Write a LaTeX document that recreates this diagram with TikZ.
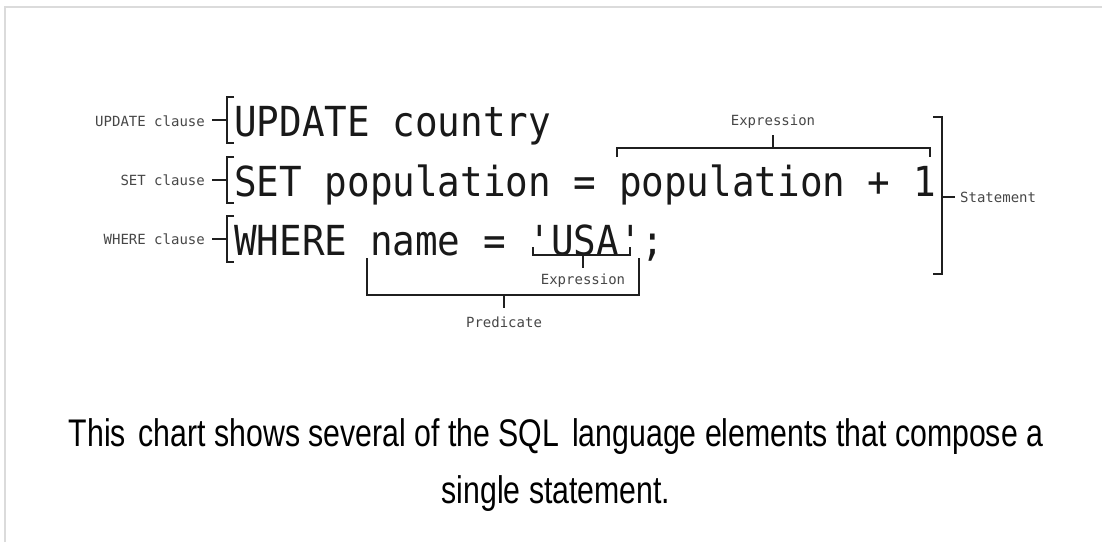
\documentclass[tikz,border=0pt]{standalone}
\usepackage{fontspec}
\setmainfont{Liberation Sans}
\newfontfamily\codefont[Ligatures=TeXOff]{DejaVu Sans Mono}
\begin{document}
\begin{tikzpicture}[x=1pt,y=-1pt,
  code/.style={font=\codefont\fontsize{37.6}{44}\selectfont, yscale=1.1, text=black!90, inner sep=0pt, anchor=base west},
  lab/.style={font=\codefont\fontsize{14}{16}\selectfont, text=black!72, inner sep=0pt},
  brk/.style={line width=2.2pt, draw=black!88, line join=miter},
  captxt/.style={font=\fontsize{38.5}{46}\selectfont, xscale=0.786, inner sep=0pt, anchor=base, text=black}]
\useasboundingbox (0,0) rectangle (1102,542);
\fill[white] (0,0) rectangle (1102,542);
\draw[black!14, line width=2pt] (5,542) -- (5,7) -- (1102,7);

% code lines
\node[code] (l1) at (234,136) {UPDATE country};
\node[code] (l2) at (234,196) {SET population = population + 1};
\node[code] (l3) at (234,255) {WHERE name = 'USA';};

% clause labels
\node[lab, anchor=east] (c1) at (205,121) {UPDATE clause};
\node[lab, anchor=east] (c2) at (205,180) {SET clause};
\node[lab, anchor=east] (c3) at (205,239) {WHERE clause};

\coordinate (t1) at (212,120); \coordinate (m1) at (227,120);
\coordinate (t2) at (212,180); \coordinate (m2) at (227,180);
\coordinate (t3) at (212,239); \coordinate (m3) at (227,239);

\draw[brk] (234,97) -- (227,97) -- (227,143) -- (234,143);
\draw[brk] (t1) -- (m1);
\draw[brk] (234,157) -- (227,157) -- (227,203) -- (234,203);
\draw[brk] (t2) -- (m2);
\draw[brk] (234,216) -- (227,216) -- (227,262) -- (234,262);
\draw[brk] (t3) -- (m3);

% statement bracket
\node[lab, anchor=west] (st) at (960,197) {Statement};
\coordinate (sm) at (942,197);
\draw[brk] (933,117) -- (942,117) -- (942,274) -- (933,274);
\draw[brk] (sm) -- (st.west -| 955,197);

% expression (top)
\node[lab] (e1) at (773,122) {Expression};
\coordinate (e1m) at (773,148);
\draw[brk] (617,157) -- (617,148) -- (930,148) -- (930,157);
\draw[brk] (e1m) -- (773,135);

% expression (USA)
\node[lab] (e2) at (583,281) {Expression};
\coordinate (e2m) at (583,255);
\draw[brk] (533,247) -- (533,255) -- (630,255) -- (630,247);
\draw[brk] (e2m) -- (583,268);

% predicate
\node[lab] (p) at (504,322) {Predicate};
\coordinate (pm) at (504,295);
\draw[brk] (367,258) -- (367,295) -- (639,295) -- (639,258);
\draw[brk] (pm) -- (504,308);

% caption
\node[captxt] (cap1) at (556,446) {This\hspace{0.15em} chart shows several of the SQL\hspace{0.15em} language elements that compose a};
\node[captxt] (cap2) at (556,503) {single statement.};
\end{tikzpicture}
\end{document}
